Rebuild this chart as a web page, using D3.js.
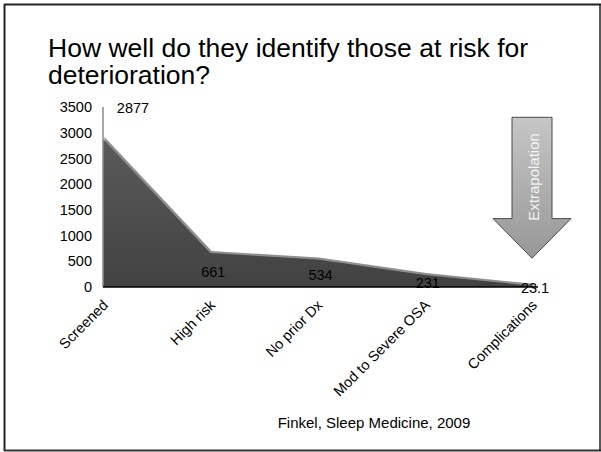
<!DOCTYPE html>
<html>
<head>
<meta charset="utf-8">
<script src="https://cdn.jsdelivr.net/npm/d3@7"></script>
<style>
  body { margin: 0; background: #fff; }
  svg { display: block; font-family: "Liberation Sans", Arial, sans-serif; }
</style>
</head>
<body>
<svg id="chart" width="601" height="452"></svg>
<script>
const categories = ["Screened", "High risk", "No prior Dx", "Mod to Severe OSA", "Complications"];
const values = [2877, 661, 534, 231, 23.1];
const valueLabels = ["2877", "661", "534", "231", "23.1"];
const yTicks = [0, 500, 1000, 1500, 2000, 2500, 3000, 3500];
const titleLines = ["How well do they identify those at risk for", "deterioration?"];
const sourceText = "Finkel, Sleep Medicine, 2009";
const arrowText = "Extrapolation";
const arrowSpan = [3300, 1330, 560]; // top of shaft, start of head, tip (in data units)

const svg = d3.select("#chart");

// slide frame
const frame = svg.append("g").attr("stroke", "#222").attr("stroke-width", 2);
frame.append("line").attr("x1", 4).attr("x2", 601).attr("y1", 4.5).attr("y2", 4.5);
frame.append("line").attr("x1", 4.5).attr("x2", 4.5).attr("y1", 4).attr("y2", 451);
frame.append("line").attr("x1", 4).attr("x2", 601).attr("y1", 450.5).attr("y2", 450.5).attr("stroke", "#333");
frame.append("line").attr("x1", 600).attr("x2", 600).attr("y1", 4).attr("y2", 451).attr("stroke-width", 1.5);

// title
svg.append("text").attr("x", 48).attr("y", 57).attr("font-size", 26.5).attr("fill", "#000")
  .selectAll("tspan").data(titleLines).join("tspan")
  .attr("x", 48).attr("dy", (d, i) => i === 0 ? 0 : 26.5).text(d => d);

const x = d3.scalePoint().domain(categories).range([103, 532]);
const y = d3.scaleLinear().domain([0, 3500]).range([287, 107]);

const defs = svg.append("defs");
const g1 = defs.append("linearGradient").attr("id", "front").attr("x1", 0).attr("y1", 0).attr("x2", 0).attr("y2", 1);
g1.append("stop").attr("offset", "0%").attr("stop-color", "#5a5a5a");
g1.append("stop").attr("offset", "100%").attr("stop-color", "#424242");
const g2 = defs.append("linearGradient").attr("id", "arrowGrad").attr("x1", 0).attr("y1", 0).attr("x2", 0).attr("y2", 1);
g2.append("stop").attr("offset", "0%").attr("stop-color", "#c6c6c6");
g2.append("stop").attr("offset", "100%").attr("stop-color", "#979797");

const data = categories.map((c, i) => ({ c, v: values[i], l: valueLabels[i] }));

// 3D top band (back face)
const backArea = d3.area().x(d => x(d.c) + 1.5).y0(y(0)).y1(d => y(d.v) - 2);
svg.append("path").datum(data).attr("d", backArea).attr("fill", "#8e8e8e");

// front face
const area = d3.area().x(d => x(d.c)).y0(y(0)).y1(d => y(d.v));
svg.append("path").datum(data).attr("d", area).attr("fill", "url(#front)");

// y axis line (gray)
svg.append("line").attr("x1", x(categories[0])).attr("x2", x(categories[0]))
  .attr("y1", y(3500)).attr("y2", y(0)).attr("stroke", "#8a8a8a").attr("stroke-width", 1.5);

// y tick labels
svg.append("g").selectAll("text").data(yTicks).join("text")
  .attr("x", 92).attr("y", d => y(d)).attr("dy", "0.35em")
  .attr("text-anchor", "end").attr("font-size", 14.5).attr("fill", "#000")
  .text(d => d);

// x axis line
svg.append("line").attr("x1", x(categories[0])).attr("x2", x(categories[categories.length - 1]) + 6)
  .attr("y1", y(0)).attr("y2", y(0)).attr("stroke", "#000").attr("stroke-width", 1.5);

// category labels
svg.append("g").selectAll("text").data(categories).join("text")
  .attr("transform", d => `translate(${x(d) + 6},${y(0) + 19}) rotate(-45)`)
  .attr("text-anchor", "end").attr("font-size", 14.5).attr("fill", "#000")
  .text(d => d);

// value labels
svg.append("g").selectAll("text").data(data).join("text")
  .attr("x", (d, i) => i === 0 ? x(d.c) + 30 : x(d.c) + 3)
  .attr("y", (d, i) => i === 0 ? y(3500) + 1 : (y(d.v) + y(0)) / 2 + 1.5)
  .attr("dy", "0.35em").attr("text-anchor", "middle").attr("font-size", 14.5).attr("fill", "#000")
  .text(d => d.l);

// Extrapolation arrow
const ax = x(categories[categories.length - 1]);
const sw = 20, hw = 39;
const yTop = y(arrowSpan[0]), yHead = y(arrowSpan[1]), yTip = y(arrowSpan[2]);
const arrowPts = [[ax - sw, yTop], [ax + sw, yTop], [ax + sw, yHead], [ax + hw, yHead],
  [ax, yTip], [ax - hw, yHead], [ax - sw, yHead]];
svg.append("path").attr("d", d3.line()(arrowPts) + "Z")
  .attr("fill", "url(#arrowGrad)").attr("stroke", "#4a4a4a").attr("stroke-width", 1);
svg.append("text")
  .attr("transform", `translate(${ax + 2},${(yTop + yHead) / 2 + 9}) rotate(-90)`)
  .attr("text-anchor", "middle").attr("dy", "0.35em").attr("font-size", 15).attr("fill", "#f4f4f4")
  .text(arrowText);

// source
svg.append("text").attr("x", 374).attr("y", 428).attr("text-anchor", "middle")
  .attr("font-size", 15).attr("fill", "#000").text(sourceText);
</script>
</body>
</html>
